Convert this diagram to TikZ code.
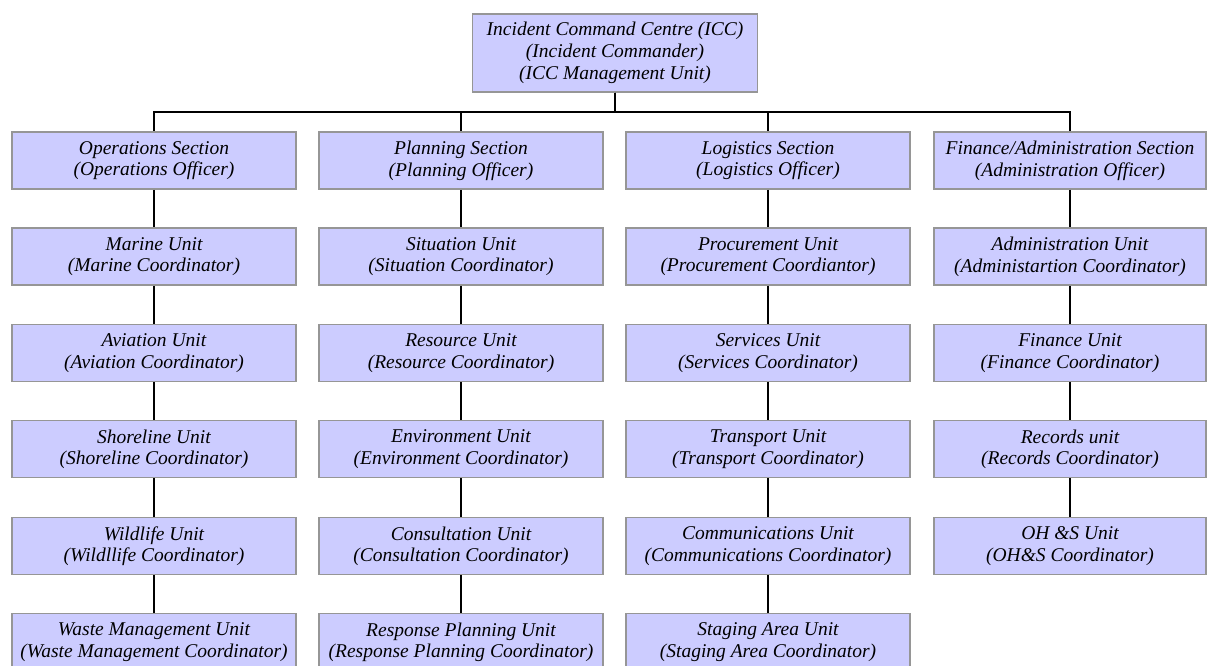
\documentclass[tikz,border=0pt]{standalone}
\usepackage{fontspec}
\setmainfont{Liberation Serif}
\definecolor{boxfill}{RGB}{204,204,255}
\definecolor{boxline}{RGB}{150,150,150}

\begin{document}
\begin{tikzpicture}[x=1pt, y=-1pt,
  unit/.style={draw=boxline, fill=boxfill, line width=1.5pt, align=center,
    minimum width=284pt, minimum height=57pt, inner sep=0pt,
    font=\fontsize{19.5}{21.7}\selectfont\itshape},
  wide/.style={unit, minimum width=272pt},
  link/.style={line width=1.4pt, black}]
\useasboundingbox (0, 0) rectangle (1207, 666);

\node [unit, minimum width=285pt, minimum height=78pt] (icc) at (615, 53) {Incident Command Centre (ICC)\\(Incident Commander)\\(ICC Management Unit)};

% sections
\node [unit] (ops) at (154, 160.5) {Operations Section\\(Operations Officer)};
\node [unit] (plan) at (461, 160.5) {Planning Section\\(Planning Officer)};
\node [unit] (log) at (768, 160.5) {Logistics Section\\(Logistics Officer)};
\node [wide] (fin) at (1070, 160.5) {Finance/Administration Section\\(Administration Officer)};

% operations
\node [unit] (marine) at (154, 256.7) {Marine Unit\\(Marine Coordinator)};
\node [unit] (aviation) at (154, 353) {Aviation Unit\\(Aviation Coordinator)};
\node [unit] (shore) at (154, 449.2) {Shoreline Unit\\(Shoreline Coordinator)};
\node [unit] (wildlife) at (154, 546.2) {Wildlife Unit\\(Wildllife Coordinator)};
\node [unit] (waste) at (154, 642.2) {Waste Management Unit\\(Waste Management Coordinator)};

% planning
\node [unit] (situation) at (461, 256.7) {Situation Unit\\(Situation Coordinator)};
\node [unit] (resource) at (461, 353) {Resource Unit\\(Resource Coordinator)};
\node [unit] (environ) at (461, 449.2) {Environment Unit\\(Environment Coordinator)};
\node [unit] (consult) at (461, 546.2) {Consultation Unit\\(Consultation Coordinator)};
\node [unit] (response) at (461, 642.2) {Response Planning Unit\\(Response Planning Coordinator)};

% logistics
\node [unit] (procure) at (768, 256.7) {Procurement Unit\\(Procurement Coordiantor)};
\node [unit] (services) at (768, 353) {Services Unit\\(Services Coordinator)};
\node [unit] (transport) at (768, 449.2) {Transport Unit\\(Transport Coordinator)};
\node [unit] (comms) at (768, 546.2) {Communications Unit\\(Communications Coordinator)};
\node [unit] (staging) at (768, 642.2) {Staging Area Unit\\(Staging Area Coordinator)};

% finance/administration
\node [wide] (admin) at (1070, 256.7) {Administration Unit\\(Administartion Coordinator)};
\node [wide] (finance) at (1070, 353) {Finance Unit\\(Finance Coordinator)};
\node [wide] (records) at (1070, 449.2) {Records unit\\(Records Coordinator)};
\node [wide] (ohs) at (1070, 546.2) {OH \&S Unit\\(OH\&S Coordinator)};

\coordinate (bus) at (615, 112);
\foreach \sec in {ops, plan, log, fin}
  \draw [link] (icc.south) -- (icc.south |- bus) -| (\sec.north);

\foreach \a/\b in {ops/marine, marine/aviation, aviation/shore, shore/wildlife, wildlife/waste,
  plan/situation, situation/resource, resource/environ, environ/consult, consult/response,
  log/procure, procure/services, services/transport, transport/comms, comms/staging,
  fin/admin, admin/finance, finance/records, records/ohs}
  \draw [link] (\a.south) -- (\b.north);
\end{tikzpicture}
\end{document}
